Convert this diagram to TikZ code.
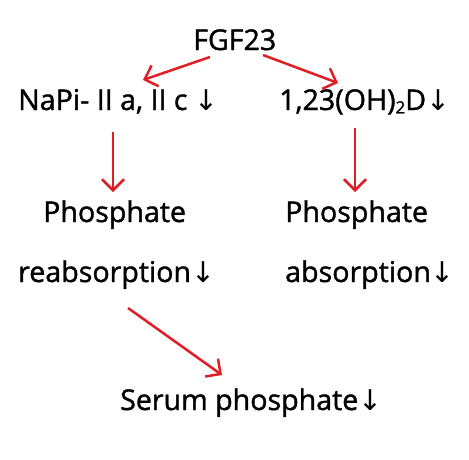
\documentclass[tikz,border=0pt]{standalone}
\usepackage{fontspec}
\setmainfont{Open Sans}[FakeBold=1.3]
\newfontfamily\symfont{DejaVu Sans}
\usetikzlibrary{arrows.meta}
\definecolor{arrred}{RGB}{224,30,38}
\newcommand{\dn}{{\symfont\char"2193}}
\tikzset{
  lbl/.style={inner sep=0pt, anchor=base west, font=\fontsize{28.6}{30}\selectfont},
  arr/.style={draw=arrred, line width=2.5pt, -{Straight Barb[length=11pt,width=22pt,line width=2.5pt]}}
}
\begin{document}
\begin{tikzpicture}[x=1pt,y=-1pt]
\useasboundingbox (0,0) rectangle (469,459);
\node[lbl] (fgf) at (193,50) {FGF23};
\node[lbl] (napi) at (18,110) {NaPi- II a, II c \dn};
\node[lbl] (vitd) at (279,110) {1,23(OH){\raisebox{-0.12em}{\fontsize{17}{18}\selectfont 2}}D\dn};
\node[lbl] (phl) at (43,222) {Phosphate};
\node[lbl] (phr) at (285,222) {Phosphate};
\node[lbl] (reab) at (18,282) {reabsorption\dn};
\node[lbl] (abs) at (285,282) {absorption\dn};
\node[lbl] (serum) at (120,410) {Serum phosphate\dn};
\coordinate (a1s) at (210,57);
\coordinate (a1e) at (143,80);
\coordinate (a2s) at (263,55);
\coordinate (a2e) at (338,83);
\coordinate (a3s) at (113,132);
\coordinate (a3e) at (113,192);
\coordinate (a4s) at (355,128);
\coordinate (a4e) at (355,192);
\coordinate (a5s) at (128,308);
\coordinate (a5e) at (222,375);
\draw[arr] (a1s) -- (a1e);
\draw[arr] (a2s) -- (a2e);
\draw[arr] (a3s) -- (a3e);
\draw[arr] (a4s) -- (a4e);
\draw[arr] (a5s) -- (a5e);
\end{tikzpicture}
\end{document}
